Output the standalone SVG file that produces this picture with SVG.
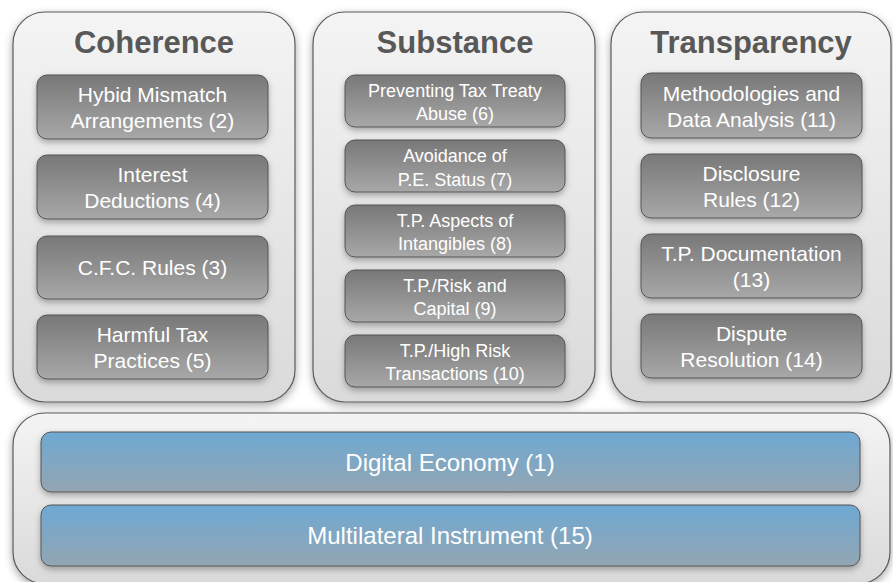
<svg xmlns="http://www.w3.org/2000/svg" width="893" height="582" viewBox="0 0 893 582">
<defs>
<linearGradient id="gOuter" x1="0" y1="0" x2="0" y2="1">
<stop offset="0" stop-color="#f4f4f4"/><stop offset="1" stop-color="#dadada"/>
</linearGradient>
<linearGradient id="gGray" x1="0" y1="0" x2="0" y2="1">
<stop offset="0" stop-color="#787878"/><stop offset="1" stop-color="#a8a8a8"/>
</linearGradient>
<linearGradient id="gBlue" x1="0" y1="0" x2="0" y2="1">
<stop offset="0" stop-color="#6ea9d3"/><stop offset="1" stop-color="#93a5b2"/>
</linearGradient>
<filter id="sh" x="-10%" y="-10%" width="120%" height="130%">
<feDropShadow dx="0" dy="3" stdDeviation="4" flood-color="#000" flood-opacity="0.35"/>
</filter>
<filter id="shs" x="-10%" y="-20%" width="120%" height="150%">
<feDropShadow dx="0" dy="3" stdDeviation="3" flood-color="#000" flood-opacity="0.3"/>
</filter>
</defs>
<style>
.outer{fill:url(#gOuter);stroke:#5a5a5a;stroke-width:1.2;filter:url(#sh)}
.gbox{fill:url(#gGray);stroke:#555;stroke-width:1;filter:url(#shs)}
.bbox{fill:url(#gBlue);stroke:#555;stroke-width:1;filter:url(#shs)}
.title{font-family:"Liberation Sans",Arial,sans-serif;font-weight:bold;font-size:31px;fill:#585858;text-anchor:middle}
.t21{font-family:"Liberation Sans",Arial,sans-serif;font-size:21px;fill:#fff;text-anchor:middle}
.t18{font-family:"Liberation Sans",Arial,sans-serif;font-size:18px;fill:#fff;text-anchor:middle}
.t24{font-family:"Liberation Sans",Arial,sans-serif;font-size:24px;fill:#fff;text-anchor:middle}
</style>
<rect width="893" height="582" fill="#fff"/>

<g id="coherence">
<rect class="outer" x="13" y="12" width="282" height="390" rx="32"/>
<text class="title" x="154" y="53">Coherence</text>
</g>
<g id="hybrid">
<rect class="gbox" x="37" y="75" width="231" height="64" rx="10"/>
<text class="t21" x="152.5" y="102">Hybid Mismatch</text>
<text class="t21" x="152.5" y="128">Arrangements (2)</text>
</g>
<g id="interest">
<rect class="gbox" x="37" y="155" width="231" height="64" rx="10"/>
<text class="t21" x="152.5" y="182">Interest</text>
<text class="t21" x="152.5" y="208">Deductions (4)</text>
</g>
<g id="cfc">
<rect class="gbox" x="37" y="236" width="231" height="63" rx="10"/>
<text class="t21" x="152.5" y="275">C.F.C. Rules (3)</text>
</g>
<g id="harmful">
<rect class="gbox" x="37" y="315" width="231" height="64" rx="10"/>
<text class="t21" x="152.5" y="342">Harmful Tax</text>
<text class="t21" x="152.5" y="368">Practices (5)</text>
</g>

<g id="substance">
<rect class="outer" x="313" y="12" width="282" height="390" rx="32"/>
<text class="title" x="455" y="53">Substance</text>
</g>
<g id="treaty">
<rect class="gbox" x="345" y="75" width="220" height="52" rx="10"/>
<text class="t18" x="455" y="97">Preventing Tax Treaty</text>
<text class="t18" x="455" y="120">Abuse (6)</text>
</g>
<g id="pe">
<rect class="gbox" x="345" y="140" width="220" height="52" rx="10"/>
<text class="t18" x="455" y="162">Avoidance of</text>
<text class="t18" x="455" y="186">P.E. Status (7)</text>
</g>
<g id="intangibles">
<rect class="gbox" x="345" y="205" width="220" height="52" rx="10"/>
<text class="t18" x="455" y="227">T.P. Aspects of</text>
<text class="t18" x="455" y="250">Intangibles (8)</text>
</g>
<g id="risk">
<rect class="gbox" x="345" y="270" width="220" height="52" rx="10"/>
<text class="t18" x="455" y="292">T.P./Risk and</text>
<text class="t18" x="455" y="315">Capital (9)</text>
</g>
<g id="highrisk">
<rect class="gbox" x="345" y="335" width="220" height="52" rx="10"/>
<text class="t18" x="455" y="357">T.P./High Risk</text>
<text class="t18" x="455" y="380">Transactions (10)</text>
</g>

<g id="transparency">
<rect class="outer" x="611" y="12" width="280" height="390" rx="32"/>
<text class="title" x="751" y="53">Transparency</text>
</g>
<g id="methodologies">
<rect class="gbox" x="641" y="73" width="221" height="65" rx="10"/>
<text class="t21" x="751.5" y="101">Methodologies and</text>
<text class="t21" x="751.5" y="127">Data Analysis (11)</text>
</g>
<g id="disclosure">
<rect class="gbox" x="641" y="154" width="221" height="64" rx="10"/>
<text class="t21" x="751.5" y="181">Disclosure</text>
<text class="t21" x="751.5" y="207">Rules (12)</text>
</g>
<g id="documentation">
<rect class="gbox" x="641" y="234" width="221" height="64" rx="10"/>
<text class="t21" x="751.5" y="261">T.P. Documentation</text>
<text class="t21" x="751.5" y="287">(13)</text>
</g>
<g id="dispute">
<rect class="gbox" x="641" y="314" width="221" height="64" rx="10"/>
<text class="t21" x="751.5" y="341">Dispute</text>
<text class="t21" x="751.5" y="367">Resolution (14)</text>
</g>

<g id="foundation">
<rect class="outer" x="13" y="413" width="877" height="171" rx="32"/>
</g>
<g id="digital">
<rect class="bbox" x="41" y="432" width="819" height="60" rx="10"/>
<text class="t24" x="450" y="471">Digital Economy (1)</text>
</g>
<g id="multilateral">
<rect class="bbox" x="41" y="505" width="819" height="61" rx="10"/>
<text class="t24" x="450" y="544">Multilateral Instrument (15)</text>
</g>

<g id="connectors"/>
</svg>
